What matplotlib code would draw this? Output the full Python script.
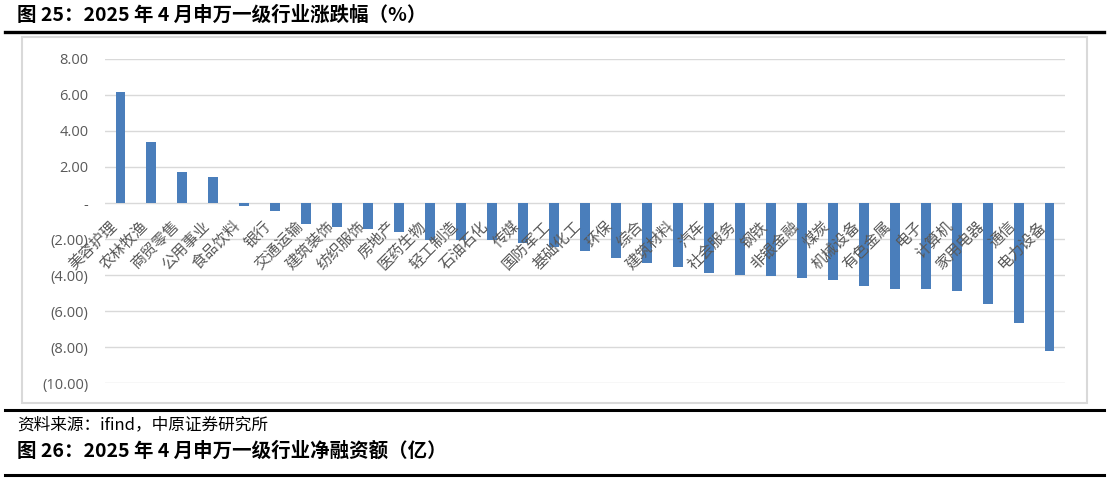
import matplotlib
matplotlib.use("Agg")
import matplotlib.pyplot as plt
import matplotlib.transforms as mtransforms
from matplotlib.lines import Line2D
from matplotlib.patches import Rectangle

categories = ["美容护理", "农林牧渔", "商贸零售", "公用事业", "食品饮料", "银行", "交通运输",
              "建筑装饰", "纺织服饰", "房地产", "医药生物", "轻工制造", "石油石化", "传媒",
              "国防军工", "基础化工", "环保", "综合", "建筑材料", "汽车", "社会服务", "钢铁",
              "非银金融", "煤炭", "机械设备", "有色金属", "电子", "计算机", "家用电器", "通信",
              "电力设备"]
values = [6.14, 3.38, 1.72, 1.45, -0.18, -0.45, -1.17,
          -1.32, -1.46, -1.60, -2.05, -2.06, -2.06, -2.20,
          -2.43, -2.65, -3.04, -3.36, -3.56, -3.88, -4.02, -4.04,
          -4.15, -4.30, -4.60, -4.76, -4.78, -4.88, -5.62, -6.68,
          -8.20]
yticks = [8, 6, 4, 2, 0, -2, -4, -6, -8, -10]
ytick_labels = ["8.00", "6.00", "4.00", "2.00", "-", "(2.00)", "(4.00)", "(6.00)", "(8.00)", "(10.00)"]

title_top = "图 25：2025 年 4 月申万一级行业涨跌幅（%）"
source_text = "资料来源：ifind，中原证券研究所"
title_next = "图 26：2025 年 4 月申万一级行业净融资额（亿）"

W, H = 1110, 482
fig = plt.figure(figsize=(W / 100, H / 100), dpi=100)
cjk = ["Noto Sans CJK SC", "DejaVu Sans"]

def px(x, y):
    return x / W, 1 - y / H

# frame and rules
fig.patches.append(Rectangle(px(22, 403), (1087 - 22) / W, (403 - 37) / H,
                             transform=fig.transFigure, fill=False,
                             edgecolor="#d9d9d9", linewidth=1.5))
for y, lw in [(31.5, 2.4), (409.5, 2.2), (474.5, 2.2)]:
    fig.add_artist(Line2D([5 / W, 1104 / W], [1 - y / H] * 2,
                          transform=fig.transFigure, color="black", linewidth=lw))

fig.text(17 / W, 1 - 15 / H, title_top, family=cjk, fontsize=14, fontweight="bold",
         va="center", ha="left", color="black")
fig.text(17 / W, 1 - 425 / H, source_text, family=cjk, fontsize=12,
         va="center", ha="left", color="black")
fig.text(17 / W, 1 - 451 / H, title_next, family=cjk, fontsize=14, fontweight="bold",
         va="center", ha="left", color="black")

left, right = 105, 1065
top, bottom = 59, 383
ax = fig.add_axes([left / W, 1 - bottom / H, (right - left) / W, (bottom - top) / H])
x = list(range(len(categories)))
ax.set_axisbelow(False)
for t in yticks:
    ax.axhline(t, color="#d9d9d9", linewidth=1.0, zorder=0.5)
ax.bar(x, values, width=0.32, color="#4a7ebb", zorder=1.5)
ax.set_xlim(-0.5, len(categories) - 0.5)
ax.set_ylim(-10, 8)
ax.set_yticks(yticks)
ax.set_yticklabels(ytick_labels, family=["Open Sans", "DejaVu Sans"], fontsize=10.5, color="#595959")
ax.tick_params(axis="y", length=0, pad=12)
for s in ["top", "right", "left", "bottom"]:
    ax.spines[s].set_visible(False)
ax.spines["bottom"].set_position(("data", 0))
ax.set_xticks(x)
ax.set_xticklabels(categories, family=cjk, fontsize=11, color="#595959",
                   rotation=45, ha="right", va="center", rotation_mode="anchor")
ax.tick_params(axis="x", length=0, pad=15)
offset = mtransforms.ScaledTranslation(-6 / 100, 0, fig.dpi_scale_trans)
for lbl in ax.get_xticklabels():
    lbl.set_transform(lbl.get_transform() + offset)

fig.savefig("out.png", dpi=100)
